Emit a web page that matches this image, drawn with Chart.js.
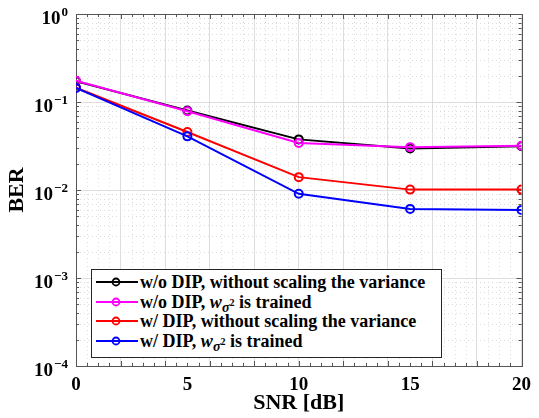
<!DOCTYPE html>
<html>
<head>
<meta charset="utf-8">
<script src="https://cdn.jsdelivr.net/npm/chart.js@4/dist/chart.umd.min.js"></script>
<style>
  html, body { margin: 0; padding: 0; background: #fff; }
  #wrap { position: relative; width: 539px; height: 418px; }
  #legend {
    position: absolute; left: 91px; top: 269px; width: 351px; height: 89px;
    box-sizing: border-box; border: 1px solid #262626; background: #fff;
    font-family: "Liberation Serif", "Times New Roman", serif; font-weight: bold; font-size: 18px; color: #000;
  }
  .row { position: absolute; left: 0; height: 20px; line-height: 20px; white-space: nowrap; }
  .row svg { position: absolute; left: 2px; top: 0; }
  .row span.t { position: absolute; left: 48px; top: 0; }
  .row sub { font-size: 14px; vertical-align: -4px; line-height: 0; }
  .row sub sup { font-size: 10px; vertical-align: 6px; line-height: 0; }
</style>
</head>
<body>
<div id="wrap">
  <canvas id="c"></canvas>
  <div id="legend"></div>
</div>
<script>
// ---- data ----
const snr = [0, 5, 10, 15, 20];
const berNoDipNoScale = [0.172, 0.080, 0.0376, 0.0297, 0.0314];
const berNoDipTrained = [0.174, 0.0785, 0.0342, 0.0307, 0.0319];
const berDipNoScale   = [0.145, 0.0456, 0.0140, 0.0101, 0.0101];
const berDipTrained   = [0.1446, 0.0407, 0.00905, 0.0061, 0.00594];

const xTickLabels = [0, 5, 10, 15, 20];
const yDecadeExponents = [0, -1, -2, -3, -4];

const seriesNames = [
  'w/o DIP, without scaling the variance',
  'w/o DIP, <i>w</i><sub><i>σ</i><sup>2</sup></sub> is trained',
  'w/ DIP, without scaling the variance',
  'w/ DIP, <i>w</i><sub><i>σ</i><sup>2</sup></sub> is trained'
];
const seriesColors = ['#000000', '#ff00ff', '#ff0000', '#0000ff'];
const seriesData = [berNoDipNoScale, berNoDipTrained, berDipNoScale, berDipTrained];

// ---- style ----
const MAJOR = '#dedede';
const MINOR = '#dcdcdc';
const AXIS = '#555555';
const FONT = '"Liberation Serif", "Times New Roman", serif';

const isDecade = v => Math.abs(Math.log10(v) - Math.round(Math.log10(v))) < 1e-9;

const matlabAxes = {
  id: 'matlabAxes',
  beforeDatasetsDraw(chart) {
    const { ctx, chartArea: a, scales: { x, y } } = chart;
    ctx.save();
    ctx.lineWidth = 1;
    // minor dotted grid
    ctx.strokeStyle = MINOR;
    ctx.setLineDash([1, 3]);
    for (let k = 1; k < 40; k++) {
      const v = k / 2;
      if (v % 2 === 0) continue;
      const px = Math.round(x.getPixelForValue(v)) + 0.5;
      ctx.beginPath(); ctx.moveTo(px, a.top); ctx.lineTo(px, a.bottom); ctx.stroke();
    }
    for (const e of yDecadeExponents) {
      if (e === 0) continue;
      for (let m = 2; m <= 9; m++) {
        const py = Math.round(y.getPixelForValue(m * Math.pow(10, e))) + 0.5;
        ctx.beginPath(); ctx.moveTo(a.left, py); ctx.lineTo(a.right, py); ctx.stroke();
      }
    }
    ctx.setLineDash([]);
    // tick marks (inward, all sides)
    ctx.strokeStyle = AXIS;
    for (let k = 0; k <= 40; k++) {
      const v = k / 2;
      const len = v % 2 === 0 ? 5 : 3;
      const px = Math.round(x.getPixelForValue(v)) + 0.5;
      ctx.beginPath();
      ctx.moveTo(px, a.bottom); ctx.lineTo(px, a.bottom - len);
      ctx.moveTo(px, a.top); ctx.lineTo(px, a.top + len);
      ctx.stroke();
    }
    for (const e of yDecadeExponents) {
      const ms = e === 0 ? [1] : [1, 2, 3, 4, 5, 6, 7, 8, 9];
      for (const m of ms) {
        const len = m === 1 ? 5 : 3;
        const py = Math.round(y.getPixelForValue(m * Math.pow(10, e))) + 0.5;
        ctx.beginPath();
        ctx.moveTo(a.left, py); ctx.lineTo(a.left + len, py);
        ctx.moveTo(a.right, py); ctx.lineTo(a.right - len, py);
        ctx.stroke();
      }
    }
    // frame
    ctx.strokeRect(Math.round(a.left) + 0.5, Math.round(a.top) + 0.5,
                   Math.round(a.right - a.left), Math.round(a.bottom - a.top));
    ctx.restore();
  },
  afterDraw(chart) {
    const { ctx, scales: { y } } = chart;
    ctx.save();
    ctx.fillStyle = '#000';
    for (const e of yDecadeExponents) {
      const py = y.getPixelForValue(Math.pow(10, e));
      const expText = e === 0 ? '0' : '\u2212' + Math.abs(e);
      ctx.font = 'bold 13px ' + FONT;
      const ew = ctx.measureText(expText).width;
      const right = 68;
      ctx.textAlign = 'left';
      ctx.textBaseline = 'alphabetic';
      ctx.fillText(expText, right - ew, py + 2);
      ctx.font = 'bold 19px ' + FONT;
      ctx.textAlign = 'right';
      ctx.fillText('10', right - ew - 1, py + 10);
    }
    ctx.restore();
  }
};

const order = [4, 3, 2, 1];
const datasets = seriesData.map((d, i) => ({
  label: seriesNames[i].replace(/<[^>]+>/g, ''),
  data: snr.map((s, j) => ({ x: s, y: d[j] })),
  borderColor: seriesColors[i],
  backgroundColor: seriesColors[i],
  borderWidth: 2,
  pointRadius: 4,
  pointBorderWidth: 2,
  pointBackgroundColor: 'rgba(0,0,0,0)',
  pointBorderColor: seriesColors[i],
  tension: 0,
  order: order[i]
}));

new Chart(document.getElementById('c'), {
  type: 'line',
  data: { datasets },
  options: {
    responsive: true,
    maintainAspectRatio: false,
    animation: false,
    layout: { padding: { top: 14, right: 17, bottom: 0, left: 0 } },
    plugins: { legend: { display: false }, tooltip: { enabled: false } },
    scales: {
      x: {
        type: 'linear', min: 0, max: 20,
        afterBuildTicks: s => {
          const t = [];
          for (let k = 0; k <= 40; k++) t.push({ value: k / 2 });
          s.ticks = t;
        },
        ticks: {
          autoSkip: false, maxRotation: 0, minRotation: 0, padding: 8,
          color: '#000',
          font: { family: FONT, weight: 'bold', size: 19 },
          callback: v => xTickLabels.includes(v) ? String(v) : ''
        },
        grid: {
          drawTicks: false,
          color: c => (c.tick && c.tick.value % 2 === 0) ? MAJOR : 'rgba(0,0,0,0)'
        },
        border: { display: false },
        title: {
          display: true, text: 'SNR [dB]', color: '#000',
          font: { family: FONT, weight: 'bold', size: 22 },
          padding: { top: 0, bottom: 1 }
        },
        afterFit: s => { s.height = 52; }
      },
      y: {
        type: 'logarithmic', min: 1e-4, max: 1,
        ticks: { display: false },
        grid: {
          drawTicks: false,
          color: c => (c.tick && isDecade(c.tick.value)) ? MAJOR : 'rgba(0,0,0,0)'
        },
        border: { display: false },
        title: {
          display: true, text: 'BER', color: '#000',
          font: { family: FONT, weight: 'bold', size: 22 },
          padding: { top: 4, bottom: 0 }
        },
        afterFit: s => { s.width = 76; }
      }
    }
  },
  plugins: [matlabAxes]
});

// ---- legend ----
const legend = document.getElementById('legend');
seriesNames.forEach((name, i) => {
  const row = document.createElement('div');
  row.className = 'row';
  row.style.top = (13 + 19.7 * i - 10 - 1) + 'px';
  row.style.width = '100%';
  const c = seriesColors[i];
  row.innerHTML =
    '<svg width="46" height="20"><line x1="2" y1="10" x2="44" y2="10" stroke="' + c + '" stroke-width="2"/>' +
    '<circle cx="22" cy="10" r="3.5" fill="none" stroke="' + c + '" stroke-width="1.8"/></svg>' +
    '<span class="t">' + name + '</span>';
  legend.appendChild(row);
});
</script>
</body>
</html>
